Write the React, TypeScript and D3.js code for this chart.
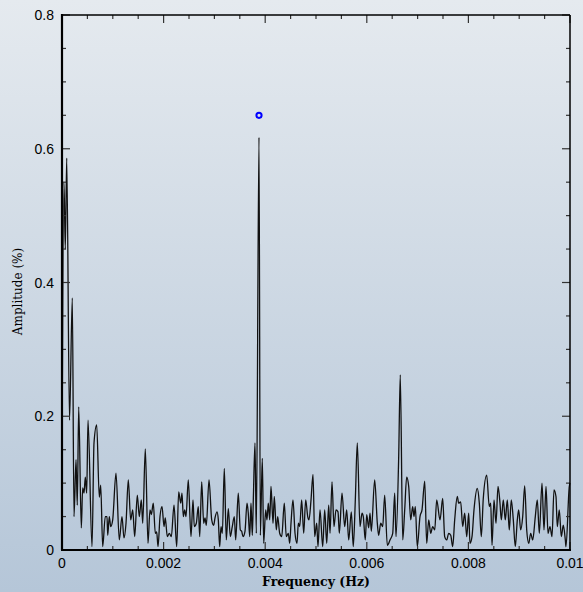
import React, { useEffect, useRef } from "react";
import * as d3 from "d3";

// frequency in mHz, amplitude in %
const freqMHz = [
  0, 0.039, 0.065, 0.093, 0.148, 0.203, 0.236, 0.276, 0.301, 0.329, 0.38, 0.407, 0.433, 0.459, 0.486, 0.512,
  0.591, 0.63, 0.683, 0.734, 0.762, 0.801, 0.852, 0.886, 0.9, 0.931, 0.959, 0.998, 1.063, 1.128, 1.181, 1.22,
  1.26, 1.305, 1.352, 1.392, 1.431, 1.482, 1.522, 1.561, 1.589, 1.64, 1.693, 1.732, 1.758, 1.797, 1.837, 1.864,
  1.89, 1.929, 1.969, 2.008, 2.033, 2.073, 2.112, 2.152, 2.205, 2.258, 2.297, 2.337, 2.362, 2.388, 2.415, 2.441,
  2.486, 2.539, 2.579, 2.604, 2.644, 2.683, 2.711, 2.75, 2.789, 2.815, 2.841, 2.894, 2.947, 2.986, 3.012, 3.051,
  3.077, 3.104, 3.13, 3.156, 3.195, 3.234, 3.274, 3.313, 3.352, 3.392, 3.419, 3.47, 3.51, 3.537, 3.563, 3.602,
  3.642, 3.667, 3.695, 3.72, 3.746, 3.766, 3.799, 3.825, 3.878, 3.904, 3.943, 3.97, 4.01, 4.035, 4.061, 4.089,
  4.114, 4.154, 4.179, 4.219, 4.246, 4.285, 4.325, 4.376, 4.415, 4.455, 4.482, 4.508, 4.547, 4.587, 4.626, 4.652,
  4.679, 4.718, 4.758, 4.797, 4.837, 4.862, 4.902, 4.941, 4.974, 5.014, 5.039, 5.079, 5.132, 5.171, 5.211, 5.25,
  5.276, 5.315, 5.354, 5.394, 5.433, 5.459, 5.512, 5.565, 5.604, 5.644, 5.695, 5.734, 5.774, 5.813, 5.866, 5.906,
  5.931, 5.97, 5.998, 6.037, 6.063, 6.089, 6.155, 6.207, 6.234, 6.274, 6.313, 6.352, 6.404, 6.457, 6.51, 6.549,
  6.575, 6.628, 6.659, 6.707, 6.746, 6.785, 6.825, 6.864, 6.903, 6.929, 6.955, 6.994, 7.047, 7.087, 7.14, 7.179,
  7.219, 7.258, 7.297, 7.337, 7.376, 7.441, 7.494, 7.533, 7.573, 7.612, 7.652, 7.691, 7.73, 7.781, 7.809, 7.848,
  7.888, 7.927, 7.967, 8.006, 8.031, 8.071, 8.11, 8.175, 8.215, 8.254, 8.293, 8.36, 8.411, 8.439, 8.465, 8.504,
  8.543, 8.583, 8.622, 8.648, 8.687, 8.726, 8.766, 8.805, 8.844, 8.884, 8.923, 8.963, 8.99, 9.029, 9.069, 9.108,
  9.148, 9.187, 9.226, 9.266, 9.317, 9.356, 9.396, 9.449, 9.488, 9.528, 9.567, 9.606, 9.646, 9.685, 9.724, 9.75,
  9.789, 9.829, 9.868, 9.908, 9.921, 9.986, 10.0,
];

const amplitude = [
  0.12, 0.55, 0.45, 0.586, 0.194, 0.377, 0.05, 0.135, 0.067, 0.214, 0.033, 0.093, 0.085, 0.109, 0.085, 0.194,
  0.005, 0.16, 0.187, 0.079, 0.097, 0.005, 0.05, 0.05, 0.022, 0.05, 0.035, 0.045, 0.115, 0.015, 0.05, 0.018,
  0.04, 0.105, 0.045, 0.06, 0.02, 0.082, 0.05, 0.075, 0.04, 0.151, 0.01, 0.06, 0.053, 0.07, 0.025, 0.027,
  0.005, 0.05, 0.065, 0.035, 0.048, 0.02, 0.025, 0.02, 0.067, 0.005, 0.087, 0.07, 0.085, 0.05, 0.06, 0.05,
  0.105, 0.02, 0.075, 0.035, 0.04, 0.065, 0.02, 0.102, 0.04, 0.048, 0.037, 0.105, 0.045, 0.037, 0.048, 0.057,
  0.045, 0.005, 0.035, 0.025, 0.122, 0.015, 0.062, 0.02, 0.035, 0.05, 0.015, 0.085, 0.03, 0.028, 0.02, 0.028,
  0.07, 0.055, 0.02, 0.07, 0.022, 0.075, 0.16, 0.025, 0.617, 0.022, 0.137, 0.01, 0.06, 0.045, 0.07, 0.045,
  0.095, 0.04, 0.08, 0.03, 0.05, 0.025, 0.02, 0.07, 0.02, 0.025, 0.01, 0.04, 0.075, 0.025, 0.01, 0.04,
  0.035, 0.075, 0.025, 0.075, 0.05, 0.045, 0.075, 0.113, 0.02, 0.04, 0.005, 0.06, 0.005, 0.06, 0.01, 0.067,
  0.025, 0.102, 0.035, 0.06, 0.057, 0.025, 0.085, 0.035, 0.06, 0.015, 0.057, 0.005, 0.075, 0.16, 0.035, 0.055,
  0.05, 0.015, 0.053, 0.033, 0.055, 0.028, 0.105, 0.04, 0.022, 0.04, 0.035, 0.082, 0.007, 0.015, 0.025, 0.085,
  0.02, 0.14, 0.262, 0.015, 0.06, 0.109, 0.095, 0.045, 0.065, 0.05, 0.065, 0.005, 0.05, 0.06, 0.103, 0.01,
  0.045, 0.025, 0.035, 0.03, 0.075, 0.045, 0.077, 0.02, 0.015, 0.025, 0.022, 0.005, 0.045, 0.08, 0.07, 0.072,
  0.035, 0.055, 0.02, 0.055, 0.01, 0.02, 0.06, 0.092, 0.07, 0.02, 0.077, 0.112, 0.065, 0.07, 0.007, 0.075,
  0.04, 0.095, 0.07, 0.045, 0.075, 0.045, 0.075, 0.03, 0.075, 0.045, 0.005, 0.045, 0.06, 0.03, 0.05, 0.096,
  0.03, 0.01, 0.025, 0.015, 0.05, 0.075, 0.025, 0.1, 0.03, 0.095, 0.025, 0.035, 0.02, 0.09, 0.08, 0.035,
  0.06, 0.02, 0.037, 0.015, 0.005, 0.095, 0.1,
];

// highlighted peak marker
const markerFreqMHz = [3.878];
const markerAmp = [0.65];

const xTicks = [0, 0.002, 0.004, 0.006, 0.008, 0.01];
const yTicks = [0, 0.2, 0.4, 0.6, 0.8];

const App = () => {
  const svgRef = useRef<SVGSVGElement>(null);

  useEffect(() => {
    const width = 583;
    const height = 592;
    const margin = { top: 15, right: 13, bottom: 42, left: 62 };

    const svg = d3.select(svgRef.current).attr("width", width).attr("height", height);
    svg.selectAll("*").remove();

    const defs = svg.append("defs");
    const grad = defs
      .append("linearGradient")
      .attr("id", "bg")
      .attr("x1", 0)
      .attr("y1", 0)
      .attr("x2", 0)
      .attr("y2", 1);
    grad.append("stop").attr("offset", "0%").attr("stop-color", "#e5eaef");
    grad.append("stop").attr("offset", "100%").attr("stop-color", "#b5c6d8");

    svg.append("rect").attr("width", width).attr("height", height).attr("fill", "url(#bg)");

    const x = d3.scaleLinear().domain([0, 0.01]).range([margin.left, width - margin.right]);
    const y = d3.scaleLinear().domain([0, 0.8]).range([height - margin.bottom, margin.top]);
    const [x0, x1] = x.range();
    const [y0, y1] = y.range();

    const data = freqMHz.map((f, i) => ({ f: f / 1000, a: amplitude[i] }));

    const line = d3
      .line<{ f: number; a: number }>()
      .x((d) => x(d.f))
      .y((d) => y(d.a))
      .curve(d3.curveMonotoneX);

    svg
      .append("path")
      .datum(data)
      .attr("d", line)
      .attr("fill", "none")
      .attr("stroke", "#111")
      .attr("stroke-width", 1.3)
      .attr("stroke-linejoin", "round");

    // ticks (inward, on all four sides)
    const tg = svg.append("g").attr("stroke", "#333");
    d3.range(0, 0.01 + 1e-9, 0.0005).forEach((v, i) => {
      const len = i % 4 === 0 ? 8 : 4;
      tg.append("line").attr("x1", x(v)).attr("x2", x(v)).attr("y1", y0).attr("y2", y0 - len).attr("stroke-width", 1.2);
      tg.append("line").attr("x1", x(v)).attr("x2", x(v)).attr("y1", y1).attr("y2", y1 + len).attr("stroke-width", 1.2);
    });
    d3.range(0, 0.8 + 1e-9, 0.05).forEach((v, i) => {
      const len = i % 4 === 0 ? 8 : 4;
      tg.append("line").attr("x1", x0).attr("x2", x0 + len).attr("y1", y(v)).attr("y2", y(v)).attr("stroke-width", 1.2);
      tg.append("line").attr("x1", x1).attr("x2", x1 - len).attr("y1", y(v)).attr("y2", y(v)).attr("stroke-width", 1.2);
    });

    // frame
    svg.append("line").attr("x1", x0).attr("x2", x1).attr("y1", y1).attr("y2", y1).attr("stroke", "#000").attr("stroke-width", 1.5);
    svg.append("line").attr("x1", x1).attr("x2", x1).attr("y1", y1).attr("y2", y0).attr("stroke", "#000").attr("stroke-width", 1.5);
    svg.append("line").attr("x1", x0 - 1).attr("x2", x1 + 1).attr("y1", y0).attr("y2", y0).attr("stroke", "#000").attr("stroke-width", 2.2);
    svg.append("line").attr("x1", x0).attr("x2", x0).attr("y1", y1 - 1).attr("y2", y0).attr("stroke", "#000").attr("stroke-width", 2.2);

    // marker
    svg
      .selectAll("circle.marker")
      .data(markerFreqMHz.map((f, i) => ({ f: f / 1000, a: markerAmp[i] })))
      .enter()
      .append("circle")
      .attr("cx", (d) => x(d.f))
      .attr("cy", (d) => y(d.a))
      .attr("r", 2.6)
      .attr("fill", "none")
      .attr("stroke", "#0000ff")
      .attr("stroke-width", 2);

    const tickFont = "'Liberation Sans', Arial, sans-serif";
    xTicks.forEach((v) => {
      svg
        .append("text")
        .attr("x", x(v))
        .attr("y", y0 + 18)
        .attr("text-anchor", "middle")
        .attr("font-family", tickFont)
        .attr("font-size", 14)
        .attr("fill", "#000")
        .text(v === 0 ? "0" : String(+v.toFixed(3)));
    });
    yTicks.forEach((v) => {
      svg
        .append("text")
        .attr("x", x0 - 8)
        .attr("y", y(v) + 5)
        .attr("text-anchor", "end")
        .attr("font-family", tickFont)
        .attr("font-size", 14)
        .attr("fill", "#000")
        .text(v === 0 ? "0" : v.toFixed(1));
    });

    const titleFont = "'DejaVu Serif', serif";
    svg
      .append("text")
      .attr("x", (x0 + x1) / 2)
      .attr("y", y0 + 36)
      .attr("text-anchor", "middle")
      .attr("font-family", titleFont)
      .attr("font-size", 12.5)
      .attr("font-weight", "bold")
      .attr("fill", "#000")
      .text("Frequency (Hz)");
    svg
      .append("text")
      .attr("transform", `translate(22, ${(y0 + y1) / 2 + 14 - 5}) rotate(-90)`)
      .attr("text-anchor", "middle")
      .attr("font-family", titleFont)
      .attr("font-size", 12)
      .attr("fill", "#000")
      .text("Amplitude (%)");
  }, []);

  return <svg ref={svgRef} style={{ position: "absolute", left: 0, top: 0, display: "block" }}></svg>;
};

export default App;
